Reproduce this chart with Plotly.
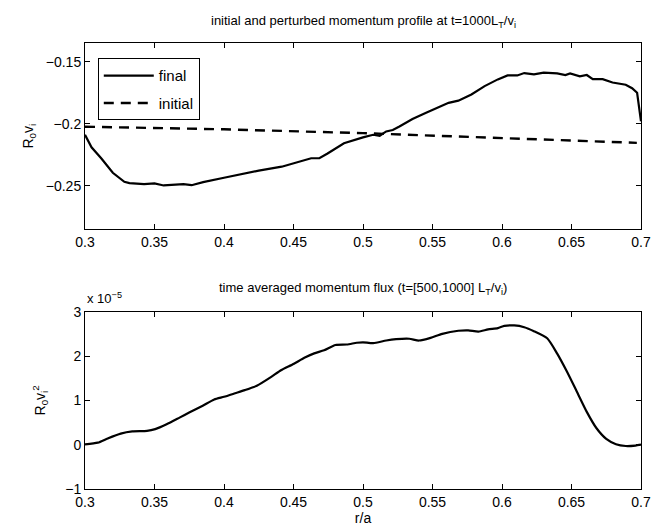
import plotly.graph_objects as go

# ---- data: top panel (momentum profile) ----
r_final = [0.300, 0.3047, 0.3118, 0.320, 0.3283, 0.332, 0.3425, 0.350, 0.3566, 0.3708,
           0.3767, 0.385, 0.400, 0.413, 0.425, 0.4415, 0.450, 0.4627, 0.4686, 0.4745,
           0.4863, 0.4958, 0.500, 0.5073, 0.512, 0.5167, 0.5214, 0.5262, 0.5356, 0.545,
           0.5533, 0.5616, 0.5686, 0.578, 0.5875, 0.597, 0.604, 0.611, 0.616, 0.623,
           0.630, 0.6397, 0.6456, 0.649, 0.656, 0.661, 0.6653, 0.6724, 0.6795, 0.689,
           0.6936, 0.6972, 0.700]
v_final = [-0.2089, -0.219, -0.228, -0.2395, -0.2468, -0.2478, -0.2486, -0.2480, -0.2497, -0.2486,
           -0.2495, -0.2470, -0.2435, -0.2405, -0.2378, -0.2346, -0.2319, -0.2278, -0.2278, -0.2240,
           -0.2157, -0.2122, -0.2110, -0.2089, -0.2097, -0.2062, -0.2051, -0.2022, -0.1962, -0.1914,
           -0.1873, -0.1832, -0.1814, -0.1765, -0.1697, -0.1643, -0.1611, -0.1611, -0.1592, -0.1603,
           -0.1589, -0.1595, -0.1608, -0.1595, -0.1619, -0.1608, -0.1641, -0.1641, -0.1668, -0.1686,
           -0.1714, -0.1751, -0.1981]
r_init = [0.30, 0.40, 0.50, 0.60, 0.697]
v_init = [-0.2024, -0.2045, -0.2076, -0.2114, -0.2154]

# ---- data: bottom panel (momentum flux, in units of 1e-5) ----
FLUX_SCALE = 1e-5
r_flux = [0.300, 0.3092, 0.3163, 0.3257, 0.334, 0.3446, 0.3505, 0.3587, 0.368, 0.3753,
          0.3847, 0.393, 0.400, 0.408, 0.415, 0.4236, 0.434, 0.441, 0.450, 0.4578,
          0.4649, 0.472, 0.4802, 0.4884, 0.4955, 0.500, 0.5073, 0.5167, 0.5238, 0.5333,
          0.5403, 0.5486, 0.557, 0.5686, 0.5757, 0.583, 0.590, 0.597, 0.6017, 0.6088,
          0.616, 0.623, 0.6325, 0.6396, 0.6467, 0.6538, 0.661, 0.668, 0.675, 0.682,
          0.689, 0.696, 0.700]
flux = [0.008, 0.045, 0.14, 0.25, 0.30, 0.31, 0.35, 0.46, 0.61, 0.73,
        0.88, 1.02, 1.08, 1.16, 1.23, 1.33, 1.53, 1.68, 1.82, 1.96,
        2.06, 2.13, 2.25, 2.26, 2.30, 2.31, 2.29, 2.35, 2.38, 2.39,
        2.35, 2.41, 2.50, 2.57, 2.58, 2.55, 2.60, 2.63, 2.68, 2.69,
        2.65, 2.56, 2.40, 2.06, 1.65, 1.20, 0.74, 0.37, 0.13, 0.01,
        -0.03, -0.02, 0.0]

x_ticks = [0.3, 0.35, 0.4, 0.45, 0.5, 0.55, 0.6, 0.65, 0.7]
x_ticklabels = ["0.3", "0.35", "0.4", "0.45", "0.5", "0.55", "0.6", "0.65", "0.7"]
top_yticks = [-0.25, -0.2, -0.15]
top_yticklabels = ["\u22120.25", "\u22120.2", "\u22120.15"]
bot_yticks = [-1, 0, 1, 2, 3]
bot_yticklabels = ["\u22121", "0", "1", "2", "3"]

FONT = "Liberation Sans, Arial, Helvetica, sans-serif"

fig = go.Figure()
fig.add_trace(go.Scatter(x=r_final, y=v_final, mode="lines", name="final", legendgroup="a",
                         line=dict(color="black", width=2.2), xaxis="x", yaxis="y"))
fig.add_trace(go.Scatter(x=r_init, y=v_init, mode="lines", name="initial", legendgroup="b",
                         line=dict(color="black", width=2.4, dash="10px,7px"),
                         xaxis="x", yaxis="y"))
fig.add_trace(go.Scatter(x=r_flux, y=[v * FLUX_SCALE for v in flux], mode="lines",
                         line=dict(color="black", width=2.2, shape="spline", smoothing=0.6),
                         showlegend=False, xaxis="x2", yaxis="y2"))

axis_common = dict(showline=True, linecolor="black", linewidth=1, mirror="ticks",
                   ticks="inside", ticklen=5, tickcolor="black", showgrid=False,
                   zeroline=False, tickfont=dict(family=FONT, size=14, color="black"))

top_dom = [0.5823, 1.0]
bot_dom = [0.0, 0.3975]

fig.update_layout(
    width=662, height=531,
    margin=dict(l=85, r=11, t=43, b=42),
    paper_bgcolor="white", plot_bgcolor="white",
    font=dict(family=FONT, size=12, color="black"),
    xaxis=dict(domain=[0, 1], range=[0.3, 0.7], tickvals=x_ticks, ticktext=x_ticklabels,
               anchor="y", **axis_common),
    yaxis=dict(domain=top_dom, range=[-0.285, -0.135], tickvals=top_yticks,
               ticktext=top_yticklabels, anchor="x",
               title=dict(text="R<sub>0</sub>v<sub>i</sub>", font=dict(size=14), standoff=8),
               **axis_common),
    xaxis2=dict(domain=[0, 1], range=[0.3, 0.7], tickvals=x_ticks, ticktext=x_ticklabels,
                anchor="y2", title=dict(text="r/a", font=dict(size=14), standoff=0),
                **axis_common),
    yaxis2=dict(domain=bot_dom, range=[-1 * FLUX_SCALE, 3 * FLUX_SCALE],
                tickvals=[v * FLUX_SCALE for v in bot_yticks], ticktext=bot_yticklabels,
                anchor="x2",
                title=dict(text="R<sub>0</sub>v<sub>i</sub><sup>2</sup>", font=dict(size=14),
                           standoff=16),
                **axis_common),
    legend=dict(x=0.023, y=0.9657, xanchor="left", yanchor="top",
                bordercolor="black", borderwidth=1, bgcolor="white",
                font=dict(family=FONT, size=15, color="black"),
                itemwidth=50, traceorder="grouped", tracegroupgap=5),
    showlegend=True,
)

fig.add_annotation(text="initial and perturbed momentum profile at t=1000L<sub>T</sub>/v<sub>i</sub>",
                   xref="paper", yref="paper", x=0.5, y=1.0, yshift=11,
                   xanchor="center", yanchor="bottom", showarrow=False,
                   font=dict(family=FONT, size=13, color="black"))
fig.add_annotation(text="time averaged momentum flux (t=[500,1000] L<sub>T</sub>/v<sub>i</sub>)",
                   xref="paper", yref="paper", x=0.5, y=bot_dom[1], yshift=13,
                   xanchor="center", yanchor="bottom", showarrow=False,
                   font=dict(family=FONT, size=13, color="black"))
fig.add_annotation(text="x 10<sup>\u22125</sup>",
                   xref="paper", yref="paper", x=0.0, y=bot_dom[1], yshift=4,
                   xanchor="left", yanchor="bottom", showarrow=False,
                   font=dict(family=FONT, size=13, color="black"))

fig.write_html("out.html")
